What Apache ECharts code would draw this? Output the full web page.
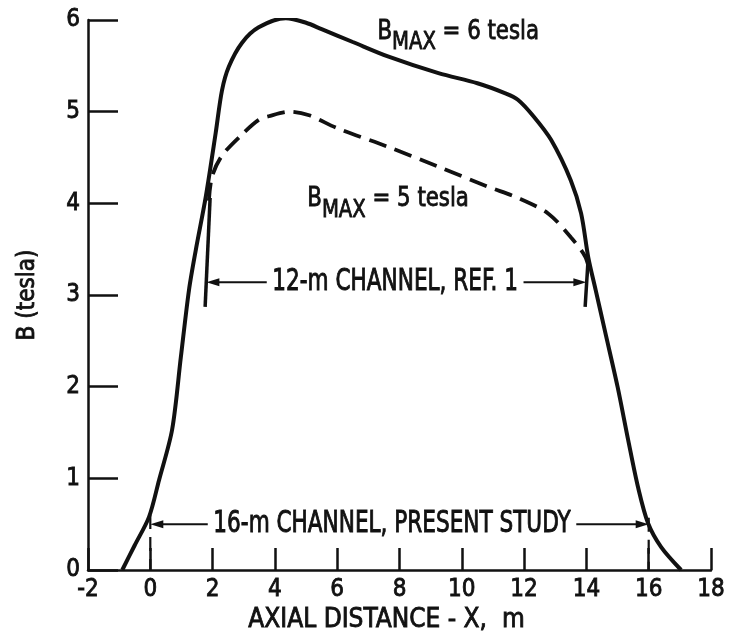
<!DOCTYPE html>
<html>
<head>
<meta charset="utf-8">
<script src="https://cdn.jsdelivr.net/npm/echarts@6/dist/echarts.min.js"></script>
<style>
  html, body { margin: 0; padding: 0; background: #fff; }
  #chart { width: 729px; height: 640px; }
</style>
</head>
<body>
<div id="chart"></div>
<script>
// axis ranges / ticks
const xTicks = { min: -2, max: 18, step: 2 }
const yTicks = { min: 0, max: 6, step: 1 }

// field profile, B max = 6 tesla  (x in m, B in tesla)
const bmax6 = [
  [-0.9, 0], [-0.5, 0.27], [-0.04, 0.58], [0.28, 0.98], [0.7, 1.53], [0.98, 2.32],
  [1.24, 3.05], [1.46, 3.49], [1.78, 4.07], [2.1, 4.77], [2.3, 5.23], [2.52, 5.49],
  [2.94, 5.75], [3.48, 5.92], [4.35, 6.02], [5.0, 5.97], [5.5, 5.9], [6.5, 5.76],
  [7.65, 5.6], [9.25, 5.42], [10.5, 5.31], [11.4, 5.2], [11.8, 5.13], [12.3, 4.95],
  [12.87, 4.69], [13.5, 4.25], [13.83, 3.89], [14.06, 3.41], [14.3, 3.05], [14.6, 2.6],
  [15.0, 2.0], [15.34, 1.42], [15.66, 0.9], [15.98, 0.51], [16.4, 0.25], [17.04, 0]
]
// field profile, B max = 5 tesla (dashed)
const bmax5 = [
  [1.88, 4.03], [1.98, 4.29], [2.3, 4.52], [2.94, 4.75], [3.48, 4.91], [3.8, 4.95],
  [4.5, 5.0], [5.1, 4.96], [6.0, 4.82], [7.6, 4.62], [9.25, 4.4], [10.85, 4.18],
  [11.8, 4.06], [12.77, 3.89], [13.5, 3.63], [13.96, 3.42], [14.12, 3.24]
]

// channel length markers
const ref1Left = [[1.92, 4.06], [1.76, 2.87]]
const ref1Right = [[14.06, 3.41], [13.96, 2.87]]
const studyLeft = [[0, 0.6], [0, 0]]
const studyRight = [[16, 0.57], [16, 0]]

// channel arrows: from, to, height, text centre, text
const channelFrom = [1.8, 0]
const channelTo = [14.0, 16]
const channelY = [3.14, 0.5]
const channelTextX = [7.86, 7.76]
const channelNames = ['12-m CHANNEL, REF. 1', '16-m CHANNEL, PRESENT STUDY']

// curve labels
const maxLabelX = [7.29, 5.04]
const maxLabelY = [5.86, 4.03]
const maxLabelValue = ['6', '5']

const FONT = "'DejaVu Sans Condensed', sans-serif"
const INK = '#111'
// slightly heavier than regular, the scan's lettering is semi-bold
const heavy = { textBorderColor: INK, textBorderWidth: 0.8 }

function markerSeries(data, dashed){
  return {
    type: 'line', data: data, symbol: 'none', silent: true, z: 3,
    lineStyle: dashed ? { color: INK, width: 2.2, type: [14, 8] } : { color: INK, width: 3.5 }
  }
}

function renderChannel(params, api){
  const i = params.dataIndex
  const a = api.coord([channelFrom[i], channelY[i]])
  const b = api.coord([channelTo[i], channelY[i]])
  const t = api.coord([channelTextX[i], channelY[i]])
  const head = 13, half = 4
  return {
    type: 'group',
    children: [
      { type: 'line', shape: { x1: a[0] + head - 2, y1: a[1], x2: b[0] - head + 2, y2: b[1] },
        style: { stroke: INK, lineWidth: 2 } },
      { type: 'polygon', shape: { points: [[a[0], a[1]], [a[0] + head, a[1] - half], [a[0] + head, a[1] + half]] },
        style: { fill: INK } },
      { type: 'polygon', shape: { points: [[b[0], b[1]], [b[0] - head, b[1] - half], [b[0] - head, b[1] + half]] },
        style: { fill: INK } },
      { type: 'text', x: t[0], y: t[1], scaleX: 0.8,
        style: { text: channelNames[i], align: 'center', verticalAlign: 'middle',
          fontSize: 30, fontFamily: FONT, fill: INK, backgroundColor: '#fff', padding: [0, 7],
          stroke: INK, lineWidth: 0.9 } }
    ]
  }
}

function renderMaxLabel(params, api){
  const i = params.dataIndex
  const p = api.coord([maxLabelX[i], maxLabelY[i]])
  const tok = (size, extra) => Object.assign({ fontSize: size, fontFamily: FONT, verticalAlign: 'top',
    fill: INK, stroke: INK, lineWidth: 0.8 }, extra)
  return {
    type: 'text', x: p[0], y: p[1] - 14, scaleX: 0.91,
    style: {
      text: '{b|B}{s|MAX}{r| = ' + maxLabelValue[i] + ' tesla}',
      align: 'left', verticalAlign: 'top', fill: INK, fontFamily: FONT, fontSize: 26,
      rich: {
        b: tok(26, { lineHeight: 28 }),
        s: tok(24, { lineHeight: 26, padding: [12, 0, 0, 0] }),
        r: tok(26, { lineHeight: 28 })
      }
    }
  }
}

const chart = echarts.init(document.getElementById('chart'))
chart.setOption({
  backgroundColor: '#fff',
  animation: false,
  grid: { left: 88, right: 18, top: 20, bottom: 70, outerBoundsMode: 'none' },
  xAxis: {
    type: 'value', min: xTicks.min, max: xTicks.max, interval: xTicks.step,
    name: 'AXIAL DISTANCE - X,  m', nameLocation: 'middle', nameGap: 36,
    nameTextStyle: Object.assign({ fontSize: 26, fontFamily: FONT, color: INK, padding: [0, 26, 0, 0] }, heavy),
    axisLine: { onZero: false, lineStyle: { color: INK, width: 2.5 } },
    axisTick: { inside: true, length: 22, lineStyle: { color: INK, width: 2.5 } },
    axisLabel: Object.assign({ fontSize: 24, fontFamily: FONT, color: INK, margin: 8 }, heavy),
    splitLine: { show: false }
  },
  yAxis: {
    type: 'value', min: yTicks.min, max: yTicks.max, interval: yTicks.step,
    name: 'B (tesla)', nameLocation: 'middle', nameGap: 48, nameRotate: 90,
    nameTextStyle: Object.assign({ fontSize: 24, fontFamily: FONT, color: INK }, heavy),
    axisLine: { onZero: false, lineStyle: { color: INK, width: 2.5 } },
    axisTick: { inside: true, length: 30, lineStyle: { color: INK, width: 2.5 } },
    axisLabel: Object.assign({ fontSize: 24, fontFamily: FONT, color: INK, margin: 8 }, heavy),
    splitLine: { show: false }
  },
  series: [
    { type: 'line', name: 'B max 6', data: bmax6, symbol: 'none', smooth: 0.3, z: 4,
      lineStyle: { color: INK, width: 4 } },
    { type: 'line', name: 'B max 5', data: bmax5, symbol: 'none', smooth: 0.3, z: 4,
      lineStyle: { color: INK, width: 3.8, type: [18, 9] } },
    markerSeries(ref1Left, false),
    markerSeries(ref1Right, false),
    markerSeries(studyLeft, true),
    markerSeries(studyRight, true),
    { type: 'custom', renderItem: renderChannel, clip: false, z: 5,
      data: channelY.map((y, i) => [channelFrom[i], y]) },
    { type: 'custom', renderItem: renderMaxLabel, clip: false, z: 5,
      data: maxLabelY.map((y, i) => [maxLabelX[i], y]) }
  ]
})
</script>
</body>
</html>
